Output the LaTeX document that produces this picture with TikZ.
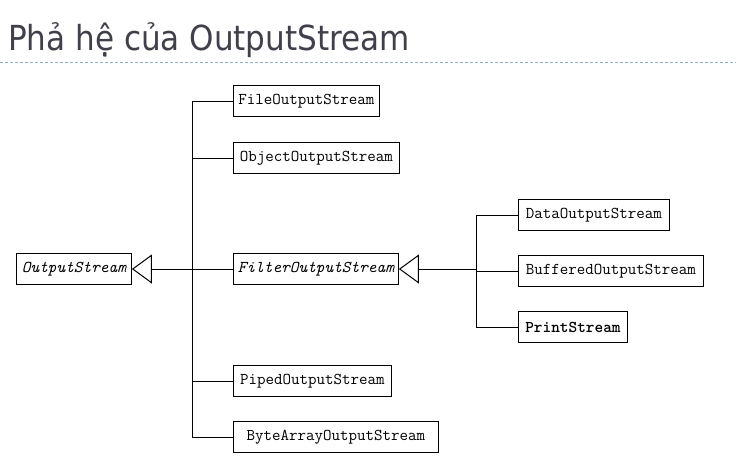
\documentclass[tikz,border=0pt]{standalone}
\usepackage{fontspec}
\newfontfamily\titlefont{DejaVu Sans Condensed}
\usetikzlibrary{arrows.meta}

\begin{document}
\begin{tikzpicture}[x=1pt, y=-1pt,
  cls/.style={draw=black, line width=0.9pt, font=\ttfamily\fontsize{16.5}{18}\selectfont,
    minimum height=31pt, inner xsep=1pt, inner ysep=0pt, anchor=west},
  abs/.style={cls, font=\ttfamily\itshape\fontsize{16.5}{18}\selectfont},
  link/.style={draw=black, line width=1pt},
  inh/.style={link, -{Triangle[open, length=20pt, width=29pt, line width=1pt]}},
]
  \useasboundingbox (0,0) rectangle (736,464);
  \node[anchor=base west, inner sep=0pt, font=\titlefont\fontsize{34.5}{40}\selectfont, text={rgb,255:red,64;green,64;blue,74}] (title) at (8,50) {Phả hệ của OutputStream};
  \draw[draw={rgb,255:red,141;green,179;blue,212}, line width=0.8pt, dash pattern=on 3pt off 2pt] (0,62) -- (736,62);

  % base classes
  \node[abs, minimum width=115pt] (out) at (16,269) {OutputStream};
  \node[abs, minimum width=165pt] (filter) at (233,269) {FilterOutputStream};
  % subclasses of OutputStream
  \node[cls, minimum width=146pt] (file) at (233,101) {FileOutputStream};
  \node[cls, minimum width=166pt] (object) at (233,158) {ObjectOutputStream};
  \node[cls, minimum width=158pt] (piped) at (233,381) {PipedOutputStream};
  \node[cls, minimum width=205pt] (bytes) at (233,437) {ByteArrayOutputStream};
  % subclasses of FilterOutputStream
  \node[cls, minimum width=151pt] (data) at (518,215) {DataOutputStream};
  \node[cls, minimum width=185pt] (buffered) at (518,271) {BufferedOutputStream};
  \node[cls, minimum width=109pt, font=\ttfamily\bfseries\fontsize{16.5}{18}\selectfont] (print) at (518,327) {PrintStream};

  \coordinate (j1) at (192,269);
  \coordinate (j2) at (476,269);
  \draw[inh] (j1) -- (out.east);
  \draw[link] (j1 |- file.west) -- (j1 |- bytes.west);
  \foreach \c in {file, object, filter, piped, bytes}
    \draw[link] (j1 |- \c.west) -- (\c.west);
  \draw[inh] (j2) -- (filter.east);
  \draw[link] (j2 |- data.west) -- (j2 |- print.west);
  \foreach \c in {data, buffered, print}
    \draw[link] (j2 |- \c.west) -- (\c.west);
\end{tikzpicture}
\end{document}
